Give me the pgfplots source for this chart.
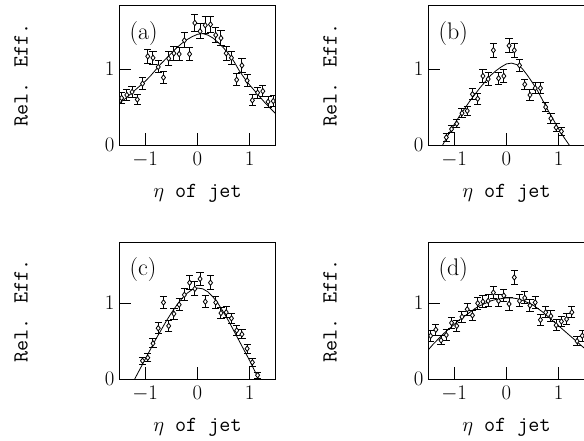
\documentclass[border=0pt]{standalone}
\usepackage{pgfplots}
\pgfplotsset{compat=1.18}
\tikzset{lab/.style={anchor=west, font=\fontsize{24}{28}\selectfont}}
\begin{document}
\begin{tikzpicture}[x=1pt,y=1pt]
\useasboundingbox (0,0) rectangle (584,-441);
\coordinate (PA) at (119,-145);
\coordinate (PB) at (428,-145);
\coordinate (PC) at (119,-379);
\coordinate (PD) at (428,-379);
\pgfplotsset{
 panel/.style={
  scale only axis, x=52.3pt, y=75.8pt,
  xmin=-1.5, xmax=1.5, ymin=0,
  xtick={-1,0,1}, ytick={0,1},
  tick pos=left, tick align=inside, major tick length=12pt,
  axis line style={line width=0.9pt},
  every tick/.style={line width=0.9pt, black},
  ticklabel style={font=\fontsize{20.5}{24}\selectfont},
  xticklabel style={yshift=-4pt},
  yticklabel style={xshift=-1pt},
  xlabel={\texttt{$\eta$ of jet}},
  ylabel={\texttt{Rel. Eff.}},
  label style={font=\fontsize{21.5}{25}\selectfont},
  xlabel style={at={(axis description cs:0.5,0)}, yshift=-48pt, anchor=center},
  ylabel style={at={(axis description cs:-0.624,0.5)}, anchor=center},
  anchor=south west,
 },
 dat/.style={black, only marks, mark=diamond*, mark size=2.7pt,
   mark options={fill=white, line width=0.8pt},
   error bars/.cd, y dir=both, y explicit,
   error bar style={line width=1pt},
   error mark options={rotate=90, line width=1pt, mark size=3.6pt}},
 fit/.style={black, no marks, line width=0.8pt},
}
% ---------- (a)
\begin{axis}[panel, at={(PA)}, ymax=1.84]
\addplot[dat] table[x index=0, y index=1, y error index=2] {
-1.45 0.62 0.07
-1.35 0.66 0.07
-1.25 0.70 0.07
-1.15 0.60 0.07
-1.05 0.81 0.08
-0.95 1.17 0.09
-0.85 1.15 0.09
-0.75 1.03 0.08
-0.65 0.89 0.08
-0.55 1.14 0.09
-0.45 1.21 0.09
-0.35 1.20 0.09
-0.25 1.38 0.10
-0.15 1.20 0.09
-0.05 1.61 0.11
0.05 1.50 0.10
0.15 1.58 0.11
0.25 1.59 0.11
0.35 1.45 0.10
0.45 1.41 0.10
0.55 1.21 0.09
0.65 1.15 0.09
0.75 0.86 0.08
0.85 1.05 0.09
0.95 0.85 0.08
1.05 0.59 0.07
1.15 0.69 0.07
1.25 0.71 0.07
1.35 0.57 0.07
1.45 0.58 0.07
};
\addplot[fit] coordinates {
(-1.5,0.55)(-1.4,0.60)(-1.3,0.66)(-1.2,0.72)(-1.1,0.78)(-1.0,0.84)
(-0.9,0.91)(-0.8,0.99)(-0.7,1.07)(-0.6,1.14)(-0.5,1.21)(-0.4,1.28)
(-0.3,1.34)(-0.2,1.39)(-0.1,1.43)(0.0,1.46)(0.1,1.47)(0.2,1.45)
(0.3,1.41)(0.4,1.35)(0.5,1.28)(0.6,1.20)(0.7,1.10)(0.8,0.98)
(0.9,0.88)(1.0,0.79)(1.1,0.71)(1.2,0.63)(1.3,0.55)(1.4,0.48)(1.5,0.41)
};
\node[lab] at (rel axis cs:0.045,0.8) {(a)};
\end{axis}
% ---------- (b)
\begin{axis}[panel, at={(PB)}, ymax=1.84]
\addplot[dat] table[x index=0, y index=1, y error index=2] {
-1.15 0.10 0.05
-1.05 0.21 0.05
-0.95 0.28 0.05
-0.85 0.42 0.06
-0.75 0.45 0.06
-0.65 0.67 0.07
-0.55 0.61 0.07
-0.45 0.91 0.08
-0.35 0.87 0.08
-0.25 1.25 0.09
-0.15 0.88 0.08
-0.05 0.91 0.08
0.05 1.31 0.09
0.15 1.25 0.09
0.25 1.05 0.08
0.35 0.80 0.07
0.45 0.66 0.07
0.55 0.75 0.07
0.65 0.75 0.07
0.75 0.50 0.06
0.85 0.35 0.06
0.95 0.23 0.05
1.05 0.18 0.05
};
\addplot[fit] coordinates {
(-1.22,0)(-1.1,0.15)(-1.0,0.27)(-0.9,0.38)(-0.8,0.48)(-0.7,0.58)
(-0.6,0.67)(-0.5,0.76)(-0.4,0.84)(-0.3,0.92)(-0.2,0.98)(-0.1,1.03)
(0.0,1.07)(0.1,1.08)(0.2,1.06)(0.3,1.01)(0.4,0.92)(0.5,0.82)
(0.6,0.71)(0.7,0.58)(0.8,0.45)(0.9,0.33)(1.0,0.21)(1.1,0.10)(1.2,0)
};
\node[lab] at (rel axis cs:0.045,0.8) {(b)};
\end{axis}
% ---------- (c)
\begin{axis}[panel, at={(PC)}, ymax=1.80]
\addplot[dat] table[x index=0, y index=1, y error index=2] {
-1.05 0.24 0.05
-0.95 0.28 0.05
-0.85 0.47 0.06
-0.75 0.67 0.07
-0.65 1.01 0.08
-0.55 0.70 0.07
-0.45 0.86 0.07
-0.35 0.98 0.08
-0.25 1.11 0.08
-0.15 1.27 0.09
-0.05 1.19 0.09
0.05 1.32 0.09
0.15 1.02 0.08
0.25 1.27 0.09
0.35 1.01 0.08
0.45 0.87 0.07
0.55 0.88 0.07
0.65 0.80 0.07
0.75 0.64 0.07
0.85 0.59 0.06
0.95 0.40 0.06
1.05 0.22 0.05
1.15 0.05 0.04
};
\addplot[fit] coordinates {
(-1.2,0)(-1.1,0.13)(-1.0,0.26)(-0.9,0.39)(-0.8,0.52)(-0.7,0.64)
(-0.6,0.76)(-0.5,0.87)(-0.4,0.97)(-0.3,1.06)(-0.2,1.13)(-0.1,1.18)
(0.0,1.20)(0.1,1.19)(0.2,1.15)(0.3,1.08)(0.4,0.99)(0.5,0.88)
(0.6,0.76)(0.7,0.63)(0.8,0.50)(0.9,0.37)(1.0,0.24)(1.1,0.10)(1.17,0)
};
\node[lab] at (rel axis cs:0.045,0.8) {(c)};
\end{axis}
% ---------- (d)
\begin{axis}[panel, at={(PD)}, ymax=1.80]
\addplot[dat] table[x index=0, y index=1, y error index=2] {
-1.45 0.57 0.07
-1.35 0.65 0.07
-1.25 0.51 0.06
-1.15 0.58 0.07
-1.05 0.74 0.07
-0.95 0.70 0.07
-0.85 0.82 0.07
-0.75 0.92 0.08
-0.65 0.84 0.07
-0.55 1.00 0.08
-0.45 1.02 0.08
-0.35 1.03 0.08
-0.25 1.14 0.08
-0.15 1.03 0.08
-0.05 1.10 0.08
0.05 0.99 0.08
0.15 1.34 0.09
0.25 1.03 0.08
0.35 1.07 0.08
0.45 0.97 0.08
0.55 1.01 0.08
0.65 0.78 0.07
0.75 0.88 0.07
0.85 0.83 0.07
0.95 0.71 0.07
1.05 0.76 0.07
1.15 0.79 0.07
1.25 0.88 0.07
1.35 0.50 0.06
1.45 0.57 0.07
};
\addplot[fit] coordinates {
(-1.5,0.38)(-1.4,0.46)(-1.3,0.53)(-1.2,0.60)(-1.1,0.66)(-1.0,0.72)
(-0.9,0.78)(-0.8,0.83)(-0.7,0.88)(-0.6,0.93)(-0.5,0.97)(-0.4,1.00)
(-0.3,1.03)(-0.2,1.05)(-0.1,1.06)(0.0,1.07)(0.1,1.07)(0.2,1.06)
(0.3,1.04)(0.4,1.01)(0.5,0.98)(0.6,0.93)(0.7,0.88)(0.8,0.82)
(0.9,0.76)(1.0,0.70)(1.1,0.64)(1.2,0.58)(1.3,0.52)(1.4,0.46)(1.5,0.40)
};
\node[lab] at (rel axis cs:0.045,0.8) {(d)};
\end{axis}
\end{tikzpicture}
\end{document}
